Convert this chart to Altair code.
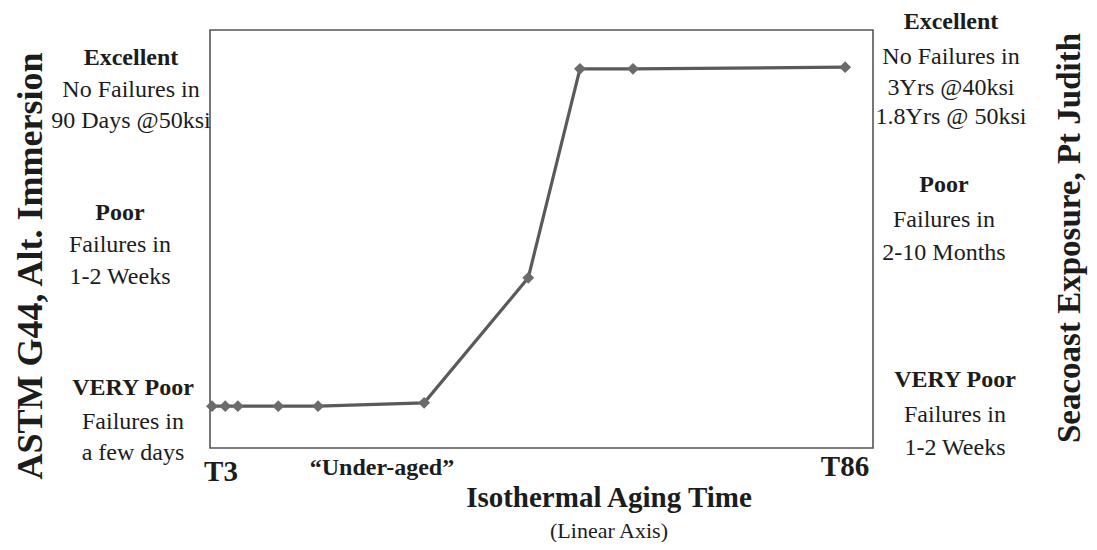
import altair as alt
import pandas as pd

# ---- data ----
aging_time = [0.3, 2.3, 4.2, 10.3, 16.3, 32.3, 48.0, 55.8, 63.8, 95.8]
performance = [10.0, 10.0, 10.0, 10.0, 10.0, 10.8, 40.7, 90.7, 90.7, 91.1]

left_title = "ASTM G44, Alt. Immersion"
right_title = "Seacoast Exposure, Pt Judith"
x_title = "Isothermal Aging Time"
x_subtitle = "(Linear Axis)"
x_tick_labels = ["T3", "\u201cUnder-aged\u201d", "T86"]

left_headers = ["Excellent", "Poor", "VERY Poor"]
left_details = [["No Failures in", "90 Days @50ksi"],
                ["Failures in", "1-2 Weeks"],
                ["Failures in", "a few days"]]
right_headers = ["Excellent", "Poor", "VERY Poor"]
right_details = [["No Failures in", "3Yrs @40ksi", "1.8Yrs @ 50ksi"],
                 ["Failures in", "2-10 Months"],
                 ["Failures in", "1-2 Weeks"]]

df = pd.DataFrame({"t": aging_time, "p": performance})

FONT = "Liberation Serif"
INK = "#1c1c1c"
W, H = 663, 418

xs = alt.X("t:Q", scale=alt.Scale(domain=[0, 100], nice=False, zero=False), axis=None)
ys = alt.Y("p:Q", scale=alt.Scale(domain=[0, 100], nice=False, zero=False), axis=None)

line = alt.Chart(df).mark_line(color="#5a5a5a", strokeWidth=3.2).encode(x=xs, y=ys)
pts = alt.Chart(df).mark_point(shape="diamond", filled=True, size=140, color="#6b6b6b", opacity=1).encode(x=xs, y=ys)

one = alt.Data(values=[{"a": 1}])


def label(text, x, y, size=24, bold=False, angle=0):
    kw = dict(text=text, font=FONT, fontSize=size, color=INK, align="center",
              baseline="middle", fontWeight="bold" if bold else "normal")
    if angle:
        kw["angle"] = angle
    return alt.Chart(one).mark_text(**kw).encode(x=alt.value(x), y=alt.value(y))


layers = [line, pts]

# left annotations
left_pos = [(-79, 28, [60, 91]), (-90, 183, [215, 247]), (-77, 358, [392, 423])]
for hdr, det, (cx, hy, dys) in zip(left_headers, left_details, left_pos):
    layers.append(label(hdr, cx, hy, bold=True))
    for txt, dy in zip(det, dys):
        layers.append(label(txt, cx, dy))

# right annotations
right_pos = [(741, -8, [27, 58, 87]), (734, 155, [190, 223]), (745, 350, [385, 418])]
for hdr, det, (cx, hy, dys) in zip(right_headers, right_details, right_pos):
    layers.append(label(hdr, cx, hy, bold=True))
    for txt, dy in zip(det, dys):
        layers.append(label(txt, cx, dy))

# axis titles
layers.append(label(left_title, -179, 236, size=36, bold=True, angle=270))
layers.append(label(right_title, 860, 208, size=33, bold=True, angle=270))
layers.append(label(x_title, 399, 468, size=29, bold=True))
layers.append(label(x_subtitle, 399, 501, size=22))

# x labels
layers.append(label(x_tick_labels[0], 11, 442, size=29, bold=True))
layers.append(label(x_tick_labels[1], 172, 438, size=24, bold=True))
layers.append(label(x_tick_labels[2], 635, 437, size=29, bold=True))

chart = alt.layer(*layers).properties(
    width=W, height=H,
    autosize=alt.AutoSizeParams(type="none"),
    padding={"left": 202, "top": 22, "right": 216, "bottom": 94},
    background="white",
).configure_view(stroke="#555555", strokeWidth=1.6)

chart.save("out.html", embed_options={"renderer": "svg", "actions": False})
